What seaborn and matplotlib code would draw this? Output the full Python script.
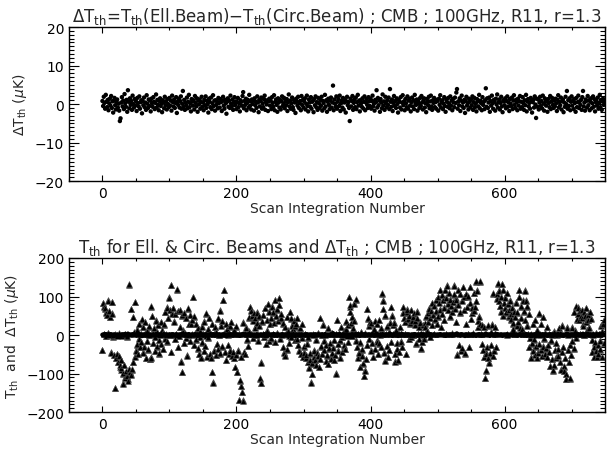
import matplotlib
matplotlib.use("Agg")
import matplotlib.pyplot as plt
import numpy as np
import pandas as pd
import seaborn as sns
from matplotlib.ticker import MultipleLocator

# Delta T_th = T_th(Ell.Beam) - T_th(Circ.Beam), one value per scan integration (muK)
delta_t = [
    0.8, -0.5, 1.9, 0.3, -1.2, 2.4, 0.6, -0.8, 1.1, -1.6, 0.2, 1.4, -0.4, 2.1, -1.0, 0.7, -2.2, 0.9, 1.6, -0.3, -1.4, 0.5, 1.2, -0.9, 0.1,
    -1.7, -4.4, -3.7, 0.4, 1.8, -0.6, 0.9, -1.3, 2.6, 0.2, -0.7, 1.1, -2.0, 3.6, 0.6, -1.1, 1.5, -0.2, 0.8, -1.5, 2.2, 0.0, -0.9, 1.3, -0.4,
    0.7, -1.8, 1.6, 0.3, -0.6, 2.0, -1.2, 0.5, 1.0, -2.4, 0.8, -0.3, 1.7, -0.8, 0.4, -1.5, 2.3, 0.1, -1.0, 1.2, -0.5, 0.9, -1.9, 1.4, 0.2,
    -0.7, 1.8, 0.6, -1.3, 0.3, 2.5, -0.9, 1.1, -0.2, -1.6, 0.8, 1.5, -0.5, 0.2, -2.1, 1.0, 0.4, -1.1, 1.9, -0.3, 0.7, -1.4, 1.3, 0.0, -0.8,
    1.6, -0.4, 0.9, -1.7, 2.2, 0.5, -0.6, 1.2, -1.0, 0.3, 1.8, -2.3, 0.6, -0.2, 1.4, -0.9, 0.8, 2.0, -1.2, 0.1, 3.4, -0.7, 1.1, -1.5, 0.4,
    -0.3, 1.7, -1.1, 0.6, 2.4, -0.8, 0.2, -1.9, 1.3, 0.7, -0.4, 1.0, -1.4, 2.1, 0.3, -0.6, 1.5, -2.0, 0.9, -0.1, 1.2, -1.2, 0.5, 1.9, -0.7,
    0.4, -1.6, 1.1, -0.3, 2.0, -1.0, 0.8, 0.0, -2.2, 1.4, 0.6, -0.8, 1.7, -1.3, 0.2, 2.3, -0.5, 0.9, -1.7, 1.0, -0.2, 0.7, -1.1, 1.6, 0.3,
    -0.9, 1.3, 0.5, -1.8, 0.8, 1.9, -0.4, -1.2, 1.1, 0.2, -2.5, 0.6, 1.5, -0.7, 0.9, -1.0, 2.2, 0.1, -0.6, 1.2, -1.5, 0.4, 1.8, -0.3, 0.7,
    -1.3, 0.5, 1.6, -0.8, 0.2, -1.9, 1.0, 0.6, -0.4, 2.1, 3.1, -1.1, 0.8, -0.2, 1.4, -1.6, 0.3, 1.1, -0.9, 2.4, -0.5, 0.7, -1.4, 1.2, 0.0,
    0.9, -1.7, 1.5, -0.3, 0.6, -1.0, 2.0, 0.4, -2.1, 1.1, -0.6, 0.8, 1.7, -1.2, 0.2, -0.8, 1.3, 2.2, -1.5, 0.5, -0.1, 1.0, -1.8, 0.7, 1.4,
    -0.4, 0.9, -1.3, 1.8, 0.3, -0.7, 2.3, -1.6, 0.6, 1.2, -0.2, -2.0, 1.5, 0.4, -0.9, 1.1, -1.4, 0.8, 2.0, -0.5, 0.1, 1.6, -1.1, 0.7, -0.3,
    1.3, -1.8, 0.5, 2.5, -0.6, 0.9, -1.2, 0.2, 1.7, -0.8, -1.5, 1.0, 0.4, -2.3, 1.4, 0.6, -0.4, 1.9, -1.0, 0.3, 0.8, -1.6, 2.1, -0.2, 1.1,
    -0.9, 0.7, 1.5, -1.4, 0.1, 2.2, -0.5, -1.9, 1.2, 0.4, -0.7, 1.8, -1.2, 0.6, 0.9, -2.1, 1.3, -0.3, 2.0, -0.8, 0.5, -1.5, 1.6, 0.2, -1.0,
    1.1, -0.4, 1.9, -1.7, 0.8, 0.3, -1.1, 2.4, -0.6, 1.0, -2.0, 0.6, 1.4, -0.2, -1.3, 0.9, 1.7, -0.9, 0.4, 4.8, -1.6, 1.2, 0.1, -0.7, 2.0,
    -1.2, 0.6, 1.3, -0.5, 2.2, -1.8, 0.2, 0.9, -0.9, 1.6, -1.4, 0.4, 1.1, -2.2, 0.7, 1.9, -0.3, 0.5, -1.0, -4.4, 1.4, -0.6, 0.8, 2.1, -1.5,
    0.3, 1.2, -0.8, 1.7, -1.3, 0.5, 2.4, -0.4, 0.9, -1.9, 1.0, 0.2, -0.7, 1.5, -1.1, 0.6, 2.0, -1.6, 0.4, 1.3, -0.2, -1.0, 1.8, 0.7, -0.5,
    1.4, -1.2, 0.8, 2.2, -0.6, 0.1, -1.7, 1.1, 0.5, 3.6, -0.9, 1.6, -0.3, 0.9, -2.0, 1.3, 0.4, -1.1, 2.5, -0.4, 0.7, -1.5, 1.9, 0.2, -0.8,
    1.0, -0.2, 1.7, -1.3, 3.9, 0.6, -0.7, 1.2, -1.8, 0.3, 2.1, -0.5, 0.8, -1.0, 1.5, 0.0, -2.2, 1.1, 0.6, -0.9, 1.8, -1.4, 0.4, 2.3, -0.3,
    0.7, -1.6, 1.3, 0.2, -0.8, 2.0, -1.2, 0.9, 1.4, -0.4, -1.9, 0.5, 1.7, -0.6, 1.0, -1.3, 2.4, 0.3, -0.2, 1.2, -1.7, 0.8, 0.1, -1.0, 1.6,
    -0.5, 2.1, 0.4, -1.4, 0.9, 1.5, -0.9, 0.2, -2.1, 1.3, 0.6, -0.3, 1.9, -1.1, 0.7, 2.2, -0.6, -1.5, 1.0, 0.3, 1.6, -0.8, 0.5, -1.2, 1.1,
    0.8, -1.7, 1.4, -0.2, 2.3, -0.9, 0.5, 1.0, -1.3, 0.1, 1.8, -0.5, -2.0, 1.2, 0.6, -0.7, 1.6, 0.2, -1.1, 2.0, -0.4, 0.9, -1.6, 1.3, 0.4,
    -0.8, 1.7, 0.3, 3.0, 3.9, -1.2, 0.7, -0.3, 1.5, -1.8, 0.9, 2.2, -0.6, 0.4, -1.0, 1.1, -2.3, 0.8, 1.9, -0.4, 0.2, -1.4, 1.4, 0.6, -0.9,
    1.2, -0.3, 2.0, -1.5, 0.5, 1.6, -0.8, 0.1, -1.9, 1.3, 0.7, -0.6, 2.4, -1.1, 0.9, 0.3, -1.6, 1.8, -0.2, 0.6, -1.3, 1.0, 4.1, -0.7, 1.5,
    -1.0, 0.4, 1.7, -2.0, 0.8, -0.4, 2.2, 0.2, -1.2, 1.1, 0.6, -1.7, 1.4, -0.1, 2.5, -0.9, 0.5, 1.2, -1.4, 0.3, 1.9, -0.6, -2.1, 1.0, 0.7,
    -0.3, 1.5, -1.1, 0.8, 2.0, -0.7, 0.4, -1.8, 1.3, 0.1, -0.5, 1.7, -1.3, 0.9, 2.3, -0.2, -1.0, 1.1, 0.5, -1.6, 1.4, -0.4, 0.7, 2.1, -1.2,
    0.6, -0.8, 1.8, 0.2, -1.5, 1.0, -0.3, 2.4, -1.9, 0.7, 1.3, -0.6, 0.3, -1.2, 1.6, 0.9, -2.2, 0.5, 1.1, -0.9, 2.0, -0.1, -3.6, 1.4, -0.7,
    1.2, -1.4, 0.4, 1.9, -0.5, 0.8, -1.1, 2.2, 0.1, -1.7, 1.5, 0.6, -0.4, 1.0, -2.0, 1.3, 0.3, -0.8, 2.1, -1.3, 0.7, 1.6, -0.2, -1.0, 0.9,
    -0.6, 1.4, 0.2, -1.8, 1.1, 2.3, -0.9, 0.5, -0.3, 1.7, -1.4, 0.8, 1.2, -2.1, 0.4, -0.7, 1.9, 0.0, 3.4, -1.2, 1.0, -0.5, 1.5, -1.6, 0.6,
    2.0, -0.4, 0.9, -1.3, 1.3, 0.3, -2.0, 1.6, -0.8, 0.5, 2.2, -1.0, 0.7, -0.2, 1.1, -1.5, 1.8, 3.4, -0.6, 0.4, -1.7, 1.2, 0.8, -0.9, 2.1,
    -0.3, 1.0, -1.6, 0.6, 1.5, -1.1, 0.2, 2.0, -0.7, 1.3, -1.9, 0.5, 0.9, -0.4, 1.7, -1.2, 0.3, 2.4, -0.8, 1.1, -1.5, 0.7, 1.4, -0.2, 0.6,
]

# T_th for the elliptical beam (muK)
t_ell = [
    -38, 82, 75, 3, 68, 60, -2, 52, 90, 5, 62, 48, 1, -45, 85, 56, -4, -52, 2, -138,
    -60, -48, 0, -70, -55, 3, -82, -90, -65, -1, -100, -125, -78, -110, 2, -95, -105, -4, -115, -88,
    131, -95, 68, -102, -90, 48, -70, 6, -55, 86, -40, -25, 15, -50, 28, -8, -32, 2, -18, 38,
    -45, 20, -28, 4, 35, -60, 12, -15, -38, 1, 22, -62, 73, -58, 50, 3, -20, 18, -42, -5,
    40, -30, 8, 25, -48, -12, 2, 33, -22, 10, -35, 5, 27, -8, 60, 2, -18, 72, 45, 0,
    99, 64, -44, 129, 58, 1, 70, 36, -10, 55, 4, 116, 62, -30, -2, 20, 66, -67, 50, -96,
    12, 57, -20, 3, 44, -8, -53, 68, 0, 30, 52, -15, 28, 2, 40, 99, -25, 47, 6, 30,
    -12, 3, -35, 18, -50, -5, 10, -58, 24, -20, 2, -42, 36, -28, 0, 55, -55, 16, -8, 45,
    -48, 5, -57, -96, 30, -122, 2, -40, 20, -52, 8, -22, 42, -35, 1, -48, 64, 25, -30, 36,
    92, 116, 4, -44, 30, -66, 16, -25, 1, -48, 22, -38, 34, -55, 3, -45, -60, 14, -83, -50,
    21, -96, -40, -169, 2, -118, -57, -131, -148, -168, 34, -45, 5, -50, 20, -12, 3, -28, 45, 10,
    73, 64, 2, 50, -8, 38, 55, 21, 44, 1, 30, 60, -14, 48, 25, -113, -124, -70, 35, 4,
    52, -5, 3, 70, -22, 40, 12, 80, -15, 62, 28, 45, -10, 75, 2, 58, 33, 90, -18, 50,
    5, 66, 38, 97, 77, -8, 42, 55, 2, 30, -31, -45, 20, -53, 4, 48, -38, 12, 1, -20,
    60, 42, -5, 25, 16, 3, 38, -12, 20, 30, -10, 44, -25, 2, -40, 18, -50, -5, 28, -57,
    -30, -45, 3, -60, -52, -20, -70, -8, -83, -65, -48, -122, -75, -100, 2, -58, -40, -66, -10, -78,
    -45, -55, 6, -83, 44, -62, -30, 1, -50, 28, -14, -40, 3, -68, -25, -55, 18, -74, -35, 2,
    -20, -60, -48, 5, -30, -66, -12, -52, 3, -98, 38, -40, -22, 4, -58, -15, 20, -44, -6, 2,
    -28, 10, -35, 34, 16, 0, 25, -18, 99, 73, 60, 30, -2, 48, 16, 82, 38, 5, -14, 92,
    -30, -57, 2, -45, -20, -83, 8, -38, -52, -74, -105, -90, 3, -62, -25, 68, 42, 25, -10, 33,
    -40, 30, -20, 6, -57, 15, 36, -35, 2, -14, 28, -48, -22, 40, 1, -30, 18, 107, 90, 68,
    -45, 50, -66, 3, 22, -28, -57, 8, -40, 34, 73, -18, 51, 25, 2, 34, -50, -68, 12, -35,
    -20, -68, 4, -44, 21, -15, 3, -30, 60, 73, 45, 2, 34, -48, 58, 68, 40, -10, 52, 30,
    64, -5, 38, 47, 1, 55, 28, 36, -22, 62, 42, 3, 20, -10, 33, -35, 5, -18, 25, 2,
    -8, 30, 20, 48, 12, 58, 34, 70, -5, 44, 65, 25, 83, 52, 2, 77, 40, 92, 60, 30,
    100, 47, 85, 116, 68, 20, 105, 55, 90, 38, 72, 116, 2, 98, 129, 64, 82, 110, 48, 93,
    75, 60, 4, 86, 129, 105, 70, 35, 95, -48, 116, 80, -27, 107, 58, -40, 90, -35, 125, 99,
    66, -48, 107, 30, 73, 2, 99, -30, 125, 82, 42, 56, 73, 3, 110, 65, 73, 88, 138, 116,
    36, 21, 50, 138, 29, 2, 25, -22, -38, 21, -57, -111, -45, -92, -30, 24, -60, -70, -48, 8,
    -25, 29, -55, 107, -40, 21, 4, -30, 107, 96, 133, 88, 116, 75, 99, 62, 133, 116, 51, 84,
    70, 98, 58, 110, 2, 80, 66, 47, 90, 55, 40, 73, 30, 16, 62, 47, 3, 85, 25, 58,
    35, 116, 99, 20, 73, 44, 16, 90, 2, 60, 116, 38, 90, 73, 25, 4, -31, 55, -8, -57,
    2, -22, -40, 29, -12, -50, 40, -31, -57, 12, -45, 55, -22, 3, -38, 29, -55, -28, 47, -10,
    -48, 5, -35, -57, 20, -25, 2, -44, -79, -15, -62, 3, -92, -79, 10, -40, -57, -20, 1, -35,
    -52, 18, -70, 4, -88, -45, 25, -30, -83, -92, -60, -100, -113, 21, -40, 2, -70, -25, -113, -52,
    21, -15, 3, -35, 60, 12, 73, -5, 40, 55, 73, 38, 62, 2, 50, 44, 66, 28, 58, 1,
    47, 34, 70, 12, 55, 38, 20, 2, 60, 44, -14, -45, 3, -57, -30, -20, -40, 5, -57, -25,
    -50, 2, -14, -38, 25, 8, -57, 30, -20, 40,
]

top_title = (r"$\Delta$T$_{\rm th}$=T$_{\rm th}$(Ell.Beam)$-$T$_{\rm th}$(Circ.Beam)"
             " ; CMB ; 100GHz, R11, r=1.3")
bottom_title = (r"T$_{\rm th}$ for Ell. & Circ. Beams and $\Delta$T$_{\rm th}$"
                " ; CMB ; 100GHz, R11, r=1.3")
x_label = "Scan Integration Number"
top_ylabel = r"$\Delta$T$_{\rm th}$ ($\mu$K)"
bottom_ylabel = r"T$_{\rm th}$  and  $\Delta$T$_{\rm th}$ ($\mu$K)"

n = min(len(delta_t), len(t_ell))
df = pd.DataFrame({
    "scan": np.arange(n),
    "dT": np.array(delta_t[:n]),
    "T_ell": np.array(t_ell[:n], dtype=float),
})
df["T_circ"] = df["T_ell"] - df["dT"]

sns.set_style("white")
plt.rcParams["font.family"] = ["DejaVu Sans"]
plt.rcParams["mathtext.fontset"] = "dejavusans"

fig = plt.figure(figsize=(6.1, 4.52), dpi=100)
ax1 = fig.add_axes([0.113, 0.597, 0.879, 0.341])
ax2 = fig.add_axes([0.113, 0.086, 0.879, 0.341])

sns.scatterplot(data=df, x="scan", y="dT", ax=ax1, color="black", s=10,
                edgecolor="none", linewidth=0)

sns.scatterplot(data=df, x="scan", y="T_ell", ax=ax2, color="black", marker="^",
                s=18, edgecolor="#555555", linewidth=0.4)
sns.scatterplot(data=df, x="scan", y="T_circ", ax=ax2, color="black", marker="^",
                s=18, edgecolor="#555555", linewidth=0.4)
sns.scatterplot(data=df, x="scan", y="dT", ax=ax2, color="black", s=10,
                edgecolor="none", linewidth=0)

for ax, lim, major, minor, title, ylab in [
    (ax1, 20, 10, 1, top_title, top_ylabel),
    (ax2, 200, 100, 10, bottom_title, bottom_ylabel),
]:
    ax.set_xlim(-50, 750)
    ax.set_ylim(-lim, lim)
    ax.xaxis.set_major_locator(MultipleLocator(200))
    ax.xaxis.set_minor_locator(MultipleLocator(50))
    ax.yaxis.set_major_locator(MultipleLocator(major))
    ax.yaxis.set_minor_locator(MultipleLocator(minor))
    ax.tick_params(axis="both", which="both", direction="in", top=True, right=True,
                   bottom=True, left=True, labelsize=10, width=0.8, colors="black")
    ax.tick_params(axis="y", which="major", length=7)
    ax.tick_params(axis="y", which="minor", length=3.5)
    ax.tick_params(axis="x", which="major", length=4)
    ax.tick_params(axis="x", which="minor", length=2)
    for sp in ax.spines.values():
        sp.set_visible(True)
        sp.set_color("black")
        sp.set_linewidth(1.0)
    ax.set_title(title, fontsize=12, pad=4)
    ax.set_xlabel(x_label, fontsize=10, labelpad=1)
    ax.set_ylabel(ylab, fontsize=10, labelpad=4)

fig.savefig("out.png", dpi=100)
